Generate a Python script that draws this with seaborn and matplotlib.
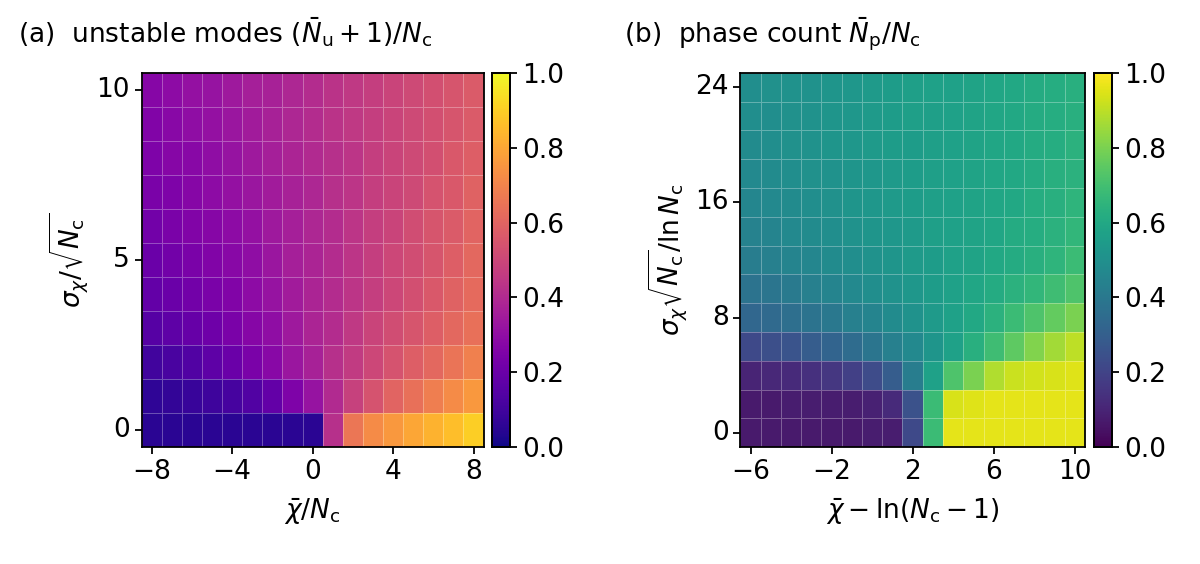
import numpy as np
import pandas as pd
import matplotlib.pyplot as plt
import seaborn as sns

# Panel (a) grid
chi_a = list(range(-8, 9))
sig_a = list(range(0, 11))
# rows from sigma=0 (bottom) to sigma=10 (top)
modes = [
    [0.05, 0.05, 0.05, 0.05, 0.05, 0.05, 0.05, 0.05, 0.05, 0.42, 0.66, 0.72, 0.76, 0.80, 0.83, 0.86, 0.90],
    [0.06, 0.07, 0.08, 0.09, 0.11, 0.14, 0.18, 0.25, 0.32, 0.40, 0.48, 0.54, 0.60, 0.64, 0.68, 0.72, 0.76],
    [0.10, 0.12, 0.14, 0.17, 0.20, 0.24, 0.28, 0.33, 0.37, 0.42, 0.46, 0.50, 0.54, 0.58, 0.61, 0.65, 0.69],
    [0.15, 0.17, 0.19, 0.21, 0.24, 0.27, 0.30, 0.34, 0.38, 0.41, 0.45, 0.49, 0.52, 0.55, 0.58, 0.61, 0.64],
    [0.18, 0.20, 0.22, 0.24, 0.26, 0.29, 0.32, 0.35, 0.38, 0.41, 0.44, 0.47, 0.50, 0.53, 0.56, 0.59, 0.62],
    [0.20, 0.22, 0.24, 0.26, 0.28, 0.30, 0.33, 0.36, 0.38, 0.41, 0.44, 0.47, 0.50, 0.52, 0.55, 0.58, 0.61],
    [0.22, 0.24, 0.26, 0.27, 0.29, 0.31, 0.34, 0.36, 0.39, 0.41, 0.44, 0.47, 0.49, 0.52, 0.55, 0.57, 0.60],
    [0.24, 0.25, 0.27, 0.29, 0.31, 0.33, 0.35, 0.37, 0.39, 0.42, 0.44, 0.47, 0.49, 0.51, 0.54, 0.56, 0.59],
    [0.25, 0.27, 0.28, 0.30, 0.32, 0.34, 0.36, 0.38, 0.40, 0.42, 0.44, 0.47, 0.49, 0.51, 0.53, 0.56, 0.58],
    [0.26, 0.28, 0.30, 0.31, 0.33, 0.35, 0.37, 0.39, 0.41, 0.43, 0.45, 0.47, 0.49, 0.51, 0.53, 0.55, 0.57],
    [0.27, 0.29, 0.31, 0.32, 0.34, 0.36, 0.37, 0.39, 0.41, 0.43, 0.45, 0.47, 0.49, 0.51, 0.53, 0.55, 0.57],
]

# Panel (b) grid
chi_b = list(range(-6, 11))
sig_b = list(range(0, 25, 2))
phases = [
    [0.07, 0.07, 0.07, 0.07, 0.07, 0.07, 0.08, 0.08, 0.22, 0.68, 0.96, 0.96, 0.96, 0.96, 0.96, 0.96, 0.96],
    [0.07, 0.07, 0.08, 0.08, 0.08, 0.08, 0.09, 0.12, 0.25, 0.68, 0.94, 0.95, 0.96, 0.96, 0.96, 0.96, 0.96],
    [0.10, 0.11, 0.12, 0.14, 0.16, 0.19, 0.23, 0.29, 0.42, 0.57, 0.72, 0.80, 0.88, 0.92, 0.93, 0.94, 0.95],
    [0.22, 0.24, 0.26, 0.29, 0.32, 0.35, 0.39, 0.43, 0.47, 0.52, 0.57, 0.63, 0.69, 0.75, 0.81, 0.86, 0.90],
    [0.33, 0.34, 0.36, 0.38, 0.40, 0.43, 0.45, 0.48, 0.51, 0.54, 0.57, 0.60, 0.64, 0.68, 0.72, 0.76, 0.80],
    [0.38, 0.39, 0.41, 0.43, 0.45, 0.47, 0.49, 0.51, 0.53, 0.55, 0.57, 0.59, 0.61, 0.64, 0.66, 0.69, 0.72],
    [0.42, 0.43, 0.45, 0.46, 0.48, 0.49, 0.51, 0.52, 0.54, 0.55, 0.57, 0.58, 0.60, 0.61, 0.63, 0.65, 0.68],
    [0.44, 0.45, 0.47, 0.48, 0.49, 0.51, 0.52, 0.53, 0.54, 0.56, 0.57, 0.58, 0.59, 0.61, 0.62, 0.64, 0.66],
    [0.46, 0.47, 0.48, 0.49, 0.50, 0.52, 0.53, 0.54, 0.55, 0.56, 0.57, 0.58, 0.59, 0.60, 0.62, 0.63, 0.65],
    [0.47, 0.48, 0.49, 0.50, 0.51, 0.52, 0.53, 0.54, 0.55, 0.56, 0.57, 0.58, 0.59, 0.60, 0.61, 0.63, 0.64],
    [0.48, 0.49, 0.50, 0.51, 0.52, 0.53, 0.54, 0.55, 0.55, 0.56, 0.57, 0.58, 0.59, 0.60, 0.61, 0.62, 0.64],
    [0.49, 0.49, 0.50, 0.51, 0.52, 0.53, 0.54, 0.55, 0.56, 0.56, 0.57, 0.58, 0.59, 0.60, 0.61, 0.62, 0.63],
    [0.49, 0.50, 0.51, 0.51, 0.52, 0.53, 0.54, 0.55, 0.56, 0.57, 0.57, 0.58, 0.59, 0.60, 0.61, 0.62, 0.63],
]

plt.rcParams['font.size'] = 19
plt.rcParams['mathtext.default'] = 'it'

fig = plt.figure(figsize=(12, 5.64), dpi=100)
ax_a = fig.add_axes([0.118, 0.207, 0.285, 0.664])
cax_a = fig.add_axes([0.41, 0.207, 0.015, 0.664])
ax_b = fig.add_axes([0.617, 0.207, 0.287, 0.664])
cax_b = fig.add_axes([0.912, 0.207, 0.015, 0.664])


def draw(ax, cax, vals, xs, ys, cmap, xt, yt, xlabel, ylabel):
    df = pd.DataFrame(vals, index=ys, columns=xs).iloc[::-1]
    sns.heatmap(df, ax=ax, cbar_ax=cax, cmap=cmap, vmin=0, vmax=1,
                linewidths=0.5, linecolor=(1, 1, 1, 0.3))
    ax.set_xticks([xs.index(v) + 0.5 for v in xt])
    ax.set_xticklabels([f"{v}".replace('-', '\u2212') for v in xt], rotation=0)
    ax.set_yticks([len(ys) - 1 - ys.index(v) + 0.5 for v in yt])
    ax.set_yticklabels([str(v) for v in yt], rotation=0)
    ax.set_xlabel(xlabel, labelpad=8)
    ax.set_ylabel(ylabel)
    for s in ax.spines.values():
        s.set_visible(True)
        s.set_linewidth(1.3)
    cax.set_yticks([0, 0.2, 0.4, 0.6, 0.8, 1.0])
    cax.set_yticklabels(['0.0', '0.2', '0.4', '0.6', '0.8', '1.0'])
    for s in cax.spines.values():
        s.set_visible(True)
        s.set_linewidth(1.3)
    ax.tick_params(width=1.3, length=5)
    cax.tick_params(width=1.3, length=5)


draw(ax_a, cax_a, modes, chi_a, sig_a, 'plasma', [-8, -4, 0, 4, 8], [0, 5, 10],
     r'$\bar{\chi}/N_\mathrm{c}$', r'$\sigma_\chi/\sqrt{N_\mathrm{c}}$')
draw(ax_b, cax_b, phases, chi_b, sig_b, 'viridis', [-6, -2, 2, 6, 10], [0, 8, 16, 24],
     r'$\bar{\chi}-\mathrm{ln}(N_\mathrm{c}-1)$', r'$\sigma_\chi\sqrt{N_\mathrm{c}}/\mathrm{ln}\,N_\mathrm{c}$')

fig.text(0.015, 0.925, r'(a)  unstable modes $(\bar{N}_\mathrm{u}+1)/N_\mathrm{c}$', fontsize=19)
fig.text(0.52, 0.925, r'(b)  phase count $\bar{N}_\mathrm{p}/N_\mathrm{c}$', fontsize=19)

fig.savefig("out.png")
plt.close()
